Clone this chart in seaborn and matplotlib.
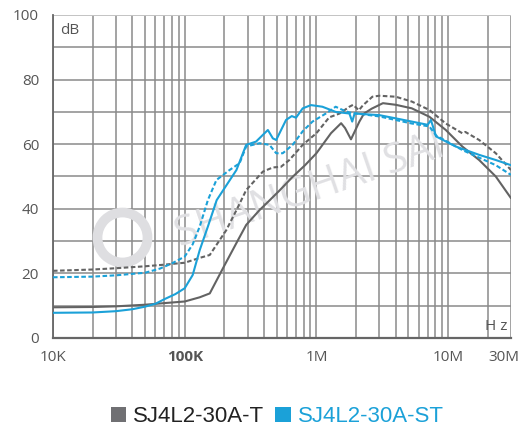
import numpy as np
import pandas as pd
import matplotlib
matplotlib.use('Agg')
import matplotlib.pyplot as plt
import matplotlib.ticker as mticker
import matplotlib.transforms as mtransforms
from matplotlib.patches import Patch
import seaborn as sns

# values (frequency in Hz, level in dB)
t_solid_f = [10e3, 20e3, 30e3, 50e3, 70e3, 100e3, 130e3, 155e3, 200e3, 250e3, 293e3, 370e3,
             416e3, 520e3, 660e3, 820e3, 1.0e6, 1.29e6, 1.54e6, 1.65e6, 1.83e6, 2.12e6, 2.3e6,
             2.63e6, 3.2e6, 4.0e6, 5.3e6, 7.2e6, 9.6e6, 12.8e6, 17.2e6, 23e6, 30e6]
t_solid_db = [9.5, 9.6, 9.8, 10.3, 10.8, 11.3, 12.6, 13.8, 22.4, 29.8, 35.0, 39.6,
              41.6, 45.5, 49.9, 53.5, 57.2, 63.4, 66.5, 65.0, 61.5, 67.0, 69.5,
              71.0, 72.7, 72.2, 71.1, 68.5, 64.4, 59.3, 55.1, 50.0, 43.3]

t_dash_f = [10e3, 20e3, 30e3, 50e3, 70e3, 100e3, 130e3, 155e3, 207e3, 250e3, 293e3, 392e3,
            467e3, 538e3, 623e3, 787e3, 1.0e6, 1.25e6, 1.5e6, 1.78e6, 1.9e6, 2.1e6, 2.25e6,
            2.66e6, 3.0e6, 4.0e6, 5.3e6, 7.2e6, 9.6e6, 12.8e6, 13.5e6, 17.2e6, 23e6, 30e6]
t_dash_db = [20.8, 21.2, 21.6, 22.2, 22.7, 23.3, 24.8, 25.7, 33.4, 40.0, 45.8, 51.5,
             52.8, 53.0, 55.1, 59.8, 63.4, 68.3, 69.5, 71.6, 72.2, 70.5, 72.0,
             74.7, 75.0, 74.7, 73.2, 70.6, 66.4, 63.4, 63.8, 61.3, 57.2, 52.0]

st_solid_f = [10e3, 20e3, 30e3, 40e3, 50e3, 60e3, 70e3, 85e3, 100e3, 115e3, 130e3, 150e3,
              175e3, 247e3, 293e3, 348e3, 428e3, 467e3, 495e3, 588e3, 650e3, 700e3, 787e3,
              910e3, 1.11e6, 1.4e6, 1.78e6, 1.87e6, 1.95e6, 3.0e6, 4.0e6, 5.3e6, 7.0e6,
              7.4e6, 8.1e6, 11.4e6, 17.2e6, 23e6, 30e6]
st_solid_db = [7.8, 7.9, 8.3, 8.9, 9.7, 10.6, 12.0, 13.6, 15.4, 19.5, 27.2, 34.5,
               42.7, 52.0, 59.8, 60.8, 64.4, 61.8, 61.3, 67.5, 68.7, 68.2, 71.1,
               72.1, 71.6, 70.0, 69.5, 67.0, 69.5, 69.0, 68.0, 67.0, 66.0,
               67.5, 62.4, 59.3, 56.7, 55.1, 53.5]

st_dash_f = [10e3, 20e3, 30e3, 50e3, 65e3, 80e3, 100e3, 115e3, 130e3, 150e3, 174e3, 219e3,
             261e3, 293e3, 370e3, 440e3, 495e3, 555e3, 660e3, 787e3, 934e3, 1.18e6, 1.4e6,
             1.58e6, 1.78e6, 3.0e6, 5.3e6, 7.2e6, 8.1e6, 12.8e6, 23e6, 30e6]
st_dash_db = [18.8, 19.0, 19.4, 20.2, 21.5, 23.1, 25.2, 29.0, 34.5, 42.7, 48.9, 52.0,
              54.1, 59.3, 60.3, 59.8, 57.2, 57.2, 59.8, 64.0, 67.0, 69.5, 71.6,
              70.6, 69.8, 68.6, 66.4, 65.5, 62.7, 58.2, 53.5, 50.5]

models = ['SJ4L2-30A-T', 'SJ4L2-30A-ST']
x_ticks = [1e4, 1e5, 1e6, 1e7, 3e7]
x_labels = ['10K', '100K', '1M', '10M', '30M']
y_ticks = [0, 20, 40, 60, 80, 100]

gray = '#636363'
blue = '#1ba1d8'

frames = []
for f, db, m, k in [(t_solid_f, t_solid_db, models[0], 'solid'),
                    (t_dash_f, t_dash_db, models[0], 'dash'),
                    (st_solid_f, st_solid_db, models[1], 'solid'),
                    (st_dash_f, st_dash_db, models[1], 'dash')]:
    frames.append(pd.DataFrame({'freq': f, 'dB': db, 'model': m, 'kind': k,
                                'curve': m + k}))
df = pd.concat(frames, ignore_index=True)

sns.set_style('white')
plt.rcParams['font.family'] = ['Open Sans', 'DejaVu Sans']

fig = plt.figure(figsize=(5.23, 4.32), dpi=100)
ax = fig.add_axes([0.1013, 0.2176, 0.8757, 0.7477])

ax.set_xscale('log')
ax.set_xlim(1e4, 3e7)
ax.set_ylim(0, 100)

# grid: every decade step on x, every 10 dB on y
ax.xaxis.set_major_locator(mticker.FixedLocator(x_ticks))
ax.xaxis.set_major_formatter(mticker.FixedFormatter(x_labels))
ax.xaxis.set_minor_locator(mticker.LogLocator(base=10, subs=np.arange(2, 10)))
ax.xaxis.set_minor_formatter(mticker.NullFormatter())
ax.yaxis.set_major_locator(mticker.FixedLocator(y_ticks))
ax.yaxis.set_minor_locator(mticker.MultipleLocator(10))
ax.grid(True, which='both', color='#8a8a8a', lw=1.1)
ax.set_axisbelow(True)
ax.tick_params(which='both', length=0)
ax.tick_params(axis='x', pad=9, labelsize=11, labelcolor='#555555')
ax.tick_params(axis='y', pad=10, labelsize=11, labelcolor='#555555')
for lab in ax.get_xticklabels():
    if lab.get_text() == '100K':
        lab.set_fontweight('bold')
    if lab.get_text() == '30M':
        lab.set_transform(lab.get_transform() +
                          mtransforms.ScaledTranslation(-0.07, 0, fig.dpi_scale_trans))

for s in ['top', 'right']:
    ax.spines[s].set_visible(False)
ax.spines['left'].set_color('#666666')
ax.spines['left'].set_linewidth(1.3)
ax.spines['bottom'].set_color('#666666')
ax.spines['bottom'].set_linewidth(1.6)
ax.axhline(100, color='#c8c8c8', lw=1.3, zorder=1)

# watermark
ax.text(0.56, 0.455, 'SHANGHAI SAI', transform=ax.transAxes, fontsize=30,
        color='#e0e0e3', rotation=19, ha='center', va='center', zorder=1.5)
ax.plot(0.151, 0.313, transform=ax.transAxes, marker='o', ms=36, mfc='none',
        mec='#dedee1', mew=7, zorder=1.5)

sns.lineplot(data=df, x='freq', y='dB', hue='curve', style='kind',
             palette={models[0] + 'solid': gray, models[0] + 'dash': gray,
                      models[1] + 'solid': blue, models[1] + 'dash': blue},
             dashes={'solid': '', 'dash': (2.2, 1.2)},
             estimator=None, sort=False, lw=1.5, legend=False, ax=ax, zorder=3)
ax.set_xlabel('')
ax.set_ylabel('')

ax.text(0.016, 0.975, 'dB', transform=ax.transAxes, ha='left', va='top',
        fontsize=11, color='#555555')
ax.text(0.992, 0.012, 'H z', transform=ax.transAxes, ha='right', va='bottom',
        fontsize=11, color='#555555')

handles = [Patch(facecolor='#707073', edgecolor='none'),
           Patch(facecolor=blue, edgecolor='none')]
leg = fig.legend(handles, models, loc='lower center', bbox_to_anchor=(0.53, -0.035),
                 ncol=2, frameon=False, handlelength=0.7, handleheight=0.7,
                 handletextpad=0.3, columnspacing=0.5,
                 prop={'family': 'Liberation Sans', 'size': 16})
for txt, c in zip(leg.get_texts(), ['#222222', blue]):
    txt.set_color(c)

fig.savefig('out.png', dpi=100)
